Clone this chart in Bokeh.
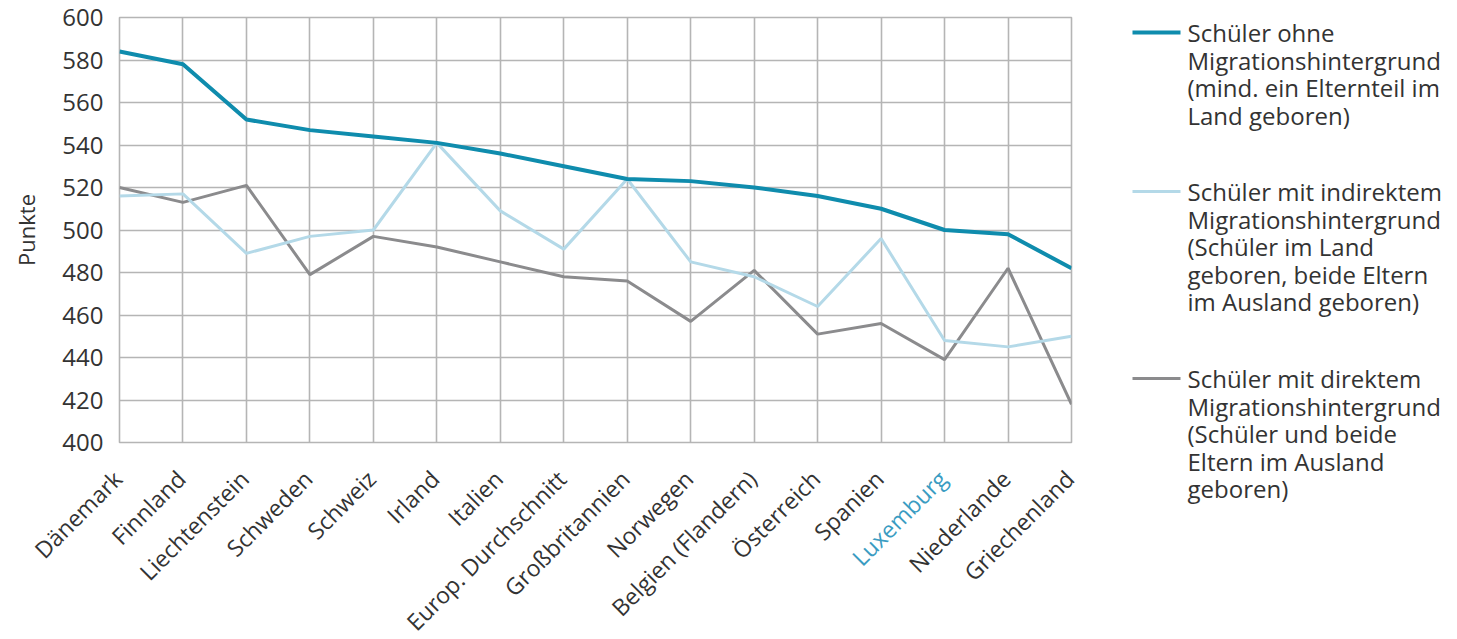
import math
from bokeh.plotting import figure
from bokeh.models import Range1d, FixedTicker
from bokeh.layouts import row, column
from bokeh.embed import file_html
from bokeh.resources import INLINE
from bokeh.core.properties import value

categories = ["Dänemark", "Finnland", "Liechtenstein", "Schweden", "Schweiz", "Irland",
              "Italien", "Europ. Durchschnitt", "Großbritannien", "Norwegen",
              "Belgien (Flandern)", "Österreich", "Spanien", "Luxemburg",
              "Niederlande", "Griechenland"]
ohne = [584, 578, 552, 547, 544, 541, 536, 530, 524, 523, 520, 516, 510, 500, 498, 482]
indirekt = [516, 517, 489, 497, 500, 541, 509, 491, 524, 485, 478, 464, 496, 448, 445, 450]
direkt = [520, 513, 521, 479, 497, 492, 485, 478, 476, 457, 481, 451, 456, 439, 482, 418]
y_ticks = [400, 420, 440, 460, 480, 500, 520, 540, 560, 580, 600]
highlight = "Luxemburg"

legend_lines = [
    ["Schüler ohne", "Migrationshintergrund", "(mind. ein Elternteil im", "Land geboren)"],
    ["Schüler mit indirektem", "Migrationshintergrund", "(Schüler im Land",
     "geboren, beide Eltern", "im Ausland geboren)"],
    ["Schüler mit direktem", "Migrationshintergrund", "(Schüler und beide",
     "Eltern im Ausland", "geboren)"],
]

FONT = "Open Sans"
TEXT = "#333333"
TEAL = "#0f8cad"
LIGHT = "#b4d9e8"
GRAY = "#8b8b8d"
HILITE = "#3a9cc2"
GRID = "#b5b5b5"

xs = list(range(len(categories)))
n = len(categories)
H = 639
W_TOTAL = 1457
W_MAIN = 1090
B_LEFT, B_RIGHT, B_TOP = 119, 19, 17
FRAME_BOTTOM = 442
TOP_H = FRAME_BOTTOM + 18
LAB_H = H - TOP_H

# ---- main plot ----
p = figure(width=W_MAIN, height=TOP_H, x_range=Range1d(0, n - 1),
           y_range=Range1d(y_ticks[0], y_ticks[-1]), output_backend="svg",
           toolbar_location=None, min_border_left=B_LEFT, min_border_right=B_RIGHT,
           min_border_top=B_TOP, min_border_bottom=TOP_H - FRAME_BOTTOM, title=None)
p.background_fill_color = "white"
p.border_fill_color = "white"
p.outline_line_color = GRID
p.outline_line_width = 1.6

p.xaxis.visible = False
p.xgrid.ticker = FixedTicker(ticks=xs)
p.xgrid.grid_line_color = GRID
p.xgrid.grid_line_width = 1.6
p.ygrid.ticker = FixedTicker(ticks=y_ticks)
p.ygrid.grid_line_color = GRID
p.ygrid.grid_line_width = 1.6

p.yaxis.ticker = FixedTicker(ticks=y_ticks)
p.yaxis.axis_line_color = None
p.yaxis.major_tick_line_color = None
p.yaxis.minor_tick_line_color = None
p.yaxis.major_label_text_font = FONT
p.yaxis.major_label_text_font_size = "24px"
p.yaxis.major_label_text_color = TEXT
p.yaxis.major_label_standoff = 10
p.yaxis.axis_label = "Punkte"
p.yaxis.axis_label_text_font = FONT
p.yaxis.axis_label_text_font_size = "22px"
p.yaxis.axis_label_text_font_style = "normal"
p.yaxis.axis_label_text_color = TEXT
p.yaxis.axis_label_standoff = 18

p.line(xs, direkt, line_color=GRAY, line_width=3)
p.line(xs, indirekt, line_color=LIGHT, line_width=3)
p.line(xs, ohne, line_color=TEAL, line_width=4)

# ---- category label strip (same x scale as the main plot) ----
ppu = (W_MAIN - B_LEFT - B_RIGHT) / (n - 1)
pl = figure(width=W_MAIN, height=LAB_H,
            x_range=Range1d(-B_LEFT / ppu, (n - 1) + B_RIGHT / ppu),
            y_range=Range1d(0, LAB_H), output_backend="svg", toolbar_location=None,
            min_border=0, x_axis_type=None, y_axis_type=None, title=None)
pl.outline_line_color = None
pl.background_fill_color = "white"
pl.border_fill_color = "white"
pl.grid.visible = False
pl.text(x=xs, y=[LAB_H - 14] * n, text=categories, angle=math.pi / 4,
        text_align="right", text_baseline="middle", x_offset=-2,
        text_font=value(FONT), text_font_size="23px",
        text_color=[HILITE if c == highlight else TEXT for c in categories])

# ---- legend ----
LW = W_TOTAL - W_MAIN
lg = figure(width=LW, height=H, x_range=Range1d(0, LW), y_range=Range1d(0, H),
            output_backend="svg", toolbar_location=None, min_border=0,
            x_axis_type=None, y_axis_type=None, title=None)
lg.outline_line_color = None
lg.background_fill_color = "white"
lg.border_fill_color = "white"
lg.grid.visible = False

colors = [TEAL, LIGHT, GRAY]
widths = [4, 3, 3]
block_tops = [32, 191, 378]
step = 27.6
for lines, c, w, top in zip(legend_lines, colors, widths, block_tops):
    lg.segment(x0=[42], y0=[H - top], x1=[90], y1=[H - top], line_color=c, line_width=w)
    ys = [H - (top + k * step) for k in range(len(lines))]
    lg.text(x=[97] * len(lines), y=ys, text=lines, text_baseline="middle",
            text_align="left", text_font=value(FONT), text_font_size="24px",
            text_color=TEXT)

layout = row(column(p, column(pl)), column(lg))
open("out.html", "w").write(file_html(layout, INLINE))
